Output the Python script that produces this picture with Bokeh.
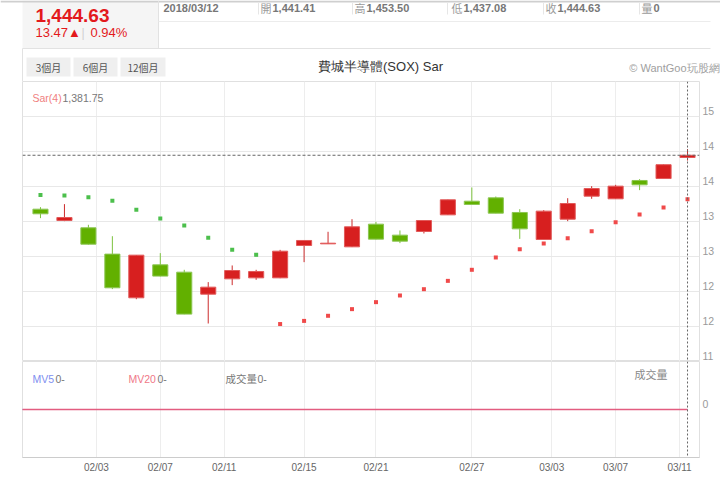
import numpy as np
from bokeh.plotting import figure
from bokeh.models import Range1d, FixedTicker, LinearAxis, Span, Grid
from bokeh.layouts import column
from bokeh.embed import file_html
from bokeh.resources import INLINE
from bokeh.core.properties import value

# ---------------- data ----------------
dates = ["2018-01-31", "2018-02-01", "2018-02-02", "2018-02-05", "2018-02-06", "2018-02-07",
         "2018-02-08", "2018-02-09", "2018-02-12", "2018-02-13", "2018-02-14", "2018-02-15",
         "2018-02-16", "2018-02-20", "2018-02-21", "2018-02-22", "2018-02-23", "2018-02-26",
         "2018-02-27", "2018-02-28", "2018-03-01", "2018-03-02", "2018-03-05", "2018-03-06",
         "2018-03-07", "2018-03-08", "2018-03-09", "2018-03-12"]
opens = [1367.6, 1351.4, 1341.0, 1303.4, 1241.0, 1288.1, 1277.6, 1246.2, 1268.1, 1269.5,
         1269.5, 1315.7, 1318.1, 1313.8, 1346.2, 1330.5, 1335.7, 1359.5, 1379.0, 1383.8,
         1362.9, 1324.3, 1353.3, 1386.2, 1382.4, 1408.6, 1411.4, 1441.41]
highs = [1370.5, 1374.8, 1345.3, 1329.0, 1302.0, 1304.8, 1281.0, 1263.4, 1287.2, 1281.0,
         1309.5, 1323.2, 1335.3, 1353.3, 1349.5, 1337.2, 1351.6, 1381.2, 1398.6, 1385.7,
         1367.6, 1366.2, 1383.3, 1400.5, 1402.4, 1410.5, 1431.5, 1453.50]
lows = [1354.8, 1350.5, 1317.0, 1253.4, 1239.0, 1271.5, 1217.5, 1204.3, 1259.1, 1266.7,
        1269.0, 1291.9, 1317.8, 1313.5, 1324.5, 1319.1, 1332.9, 1359.3, 1374.1, 1361.7,
        1325.2, 1324.0, 1350.5, 1382.4, 1382.2, 1394.8, 1411.2, 1437.08]
closes = [1361.0, 1355.7, 1317.6, 1255.3, 1301.9, 1272.0, 1217.7, 1256.2, 1280.0, 1278.6,
          1307.6, 1322.9, 1319.0, 1342.4, 1324.8, 1321.9, 1351.4, 1381.0, 1374.3, 1361.9,
          1339.5, 1364.8, 1375.7, 1397.1, 1400.5, 1402.4, 1431.16, 1444.63]
sar = [1388.0, 1387.1, 1384.8, 1379.5, 1366.7, 1354.3, 1344.3, 1326.7, 1309.5, 1302.4,
       1203.5, 1208.0, 1215.3, 1224.8, 1234.8, 1244.3, 1253.3, 1265.2, 1281.0, 1298.6,
       1310.5, 1318.6, 1326.2, 1336.2, 1349.0, 1360.0, 1370.0, 1381.75]
volumes = [0, 0, 0, 0, 0, 0, 0, 0, 0, 0, 0, 0, 0, 0, 0, 0, 0, 0, 0, 0, 0, 0, 0, 0, 0, 0, 0, 0]
mv_dates = ["2018-01-30"] + dates
mv5 = [0, 0, 0, 0, 0, 0, 0, 0, 0, 0, 0, 0, 0, 0, 0, 0, 0, 0, 0, 0, 0, 0, 0, 0, 0, 0, 0, 0, 0]
mv20 = [0, 0, 0, 0, 0, 0, 0, 0, 0, 0, 0, 0, 0, 0, 0, 0, 0, 0, 0, 0, 0, 0, 0, 0, 0, 0, 0, 0, 0]
x_tick_labels = ["02/03", "02/07", "02/11", "02/15", "02/21", "02/27", "03/03", "03/07", "03/11"]
price_ticks = [1150, 1200, 1250, 1300, 1350, 1400, 1450, 1500]
price_tick_labels = ["11", "12", "12", "13", "13", "14", "14", "15"]

title_text = "費城半導體(SOX) Sar"
last_date = "2018/03/12"
info_names = ["開", "高", "低", "收", "量"]
info_values = ["1,441.41", "1,453.50", "1,437.08", "1,444.63", "0"]
last_price = "1,444.63"
change = "13.47▲"
change_pct = "0.94%"
ranges_buttons = ["3個月", "6個月", "12個月"]
sar_name = "Sar(4)"
sar_last = "1,381.75"
credit = "© WantGoo玩股網"

# ---------------- derived positions (ordinal axis) ----------------
n = len(dates)
idx = np.arange(n)
day_num = np.array(dates, dtype="datetime64[D]").astype(np.int64)
tick_days = np.array(["2018-" + t.replace("/", "-") for t in x_tick_labels],
                     dtype="datetime64[D]").astype(np.int64)
tick_pos = [round(float(v), 4) for v in np.interp(tick_days, day_num, idx)]
mv_x = np.arange(-1, n)

up = [c >= o for o, c in zip(opens, closes)]
RED, GREEN = "#d71f1f", "#62b000"
body_fill = [RED if u else GREEN for u in up]
body_line = ["#e25a5a" if u else "#8cc653" for u in up]
wick_col = ["#cc2b2b" if u else "#7cc23e" for u in up]
body_top = [max(o, c) for o, c in zip(opens, closes)]
body_bot = [min(o, c) for o, c in zip(opens, closes)]
sar_col = ["#4cbf4c" if s > h else "#f04a4a" for s, h in zip(sar, highs)]

FONT_NAME = "Liberation Sans"
FONT = value(FONT_NAME)
CJK = value("Noto Sans CJK TC")

P_LO, P_HI = 1150, 1550
V_LO, V_HI = -1, 1
LABEL_LIFT_PX = 6  # y labels sit just above their grid lines


# pixel helpers (screen pixel -> data)
def px(x):
    return -0.75 + (x - 22) / 23.965


def py_price(y):
    return P_HI - (y - 81) / 0.7


def py_vol(y):
    return V_HI - (y - 361) / 96 * (V_HI - V_LO)


# ---------------- header ----------------
hf = figure(width=720, height=81, x_range=Range1d(0, 720), y_range=Range1d(81, 0),
            output_backend="svg", toolbar_location=None, x_axis_location=None,
            y_axis_location=None, min_border=0, frame_align=False)
hf.grid.visible = False
hf.outline_line_color = None
hf.quad(left=[22], right=[158], top=[0], bottom=[48], fill_color="#f5f5f5", line_color=None)
hf.segment(x0=[0, 158, 158, 22, 22], y0=[1, 0, 21, 48, 48], x1=[720, 158, 710, 710, 22],
           y1=[1, 48, 21, 48, 81], line_color=["#cfcfcf", "#e2e2e2", "#ececec", "#e2e2e2", "#e2e2e2"],
           line_width=[2, 1, 1, 1, 1])
hf.segment(x0=[258, 352, 447, 543, 639], y0=[2] * 5, x1=[258, 352, 447, 543, 639], y1=[14] * 5,
           line_color="#e6e6e6", line_width=1)
hf.text(x=[35], y=[14.5], text=[last_price], text_font=FONT, text_font_size="19px",
        text_font_style="bold", text_color="#e3191c", text_baseline="middle")
hf.text(x=[35, 90], y=[32, 32], text=[change, change_pct], text_font=FONT, text_font_size="13px",
        text_color="#e3191c", text_baseline="middle")
hf.text(x=[81], y=[32], text=["|"], text_font=FONT, text_font_size="12px",
        text_color="#d0d0d0", text_baseline="middle")
hf.text(x=[163], y=[7], text=[last_date], text_font=FONT, text_font_size="11px",
        text_font_style="bold", text_color="#777777", text_baseline="middle")
name_x = [260, 354, 451, 545, 641]
hf.text(x=name_x, y=[7] * 5, text=info_names, text_font=CJK, text_font_size="11px",
        text_color="#9a9a9a", text_baseline="middle")
hf.text(x=[v + 12 for v in name_x], y=[7] * 5, text=info_values, text_font=FONT,
        text_font_size="11px", text_font_style="bold", text_color="#777777",
        text_baseline="middle")
hf.quad(left=[26, 73, 120], right=[70, 117, 165], top=[57, 57, 57], bottom=[76, 76, 76],
        fill_color="#efefef", line_color=None)
hf.text(x=[48, 95, 142.5], y=[66.5] * 3, text=ranges_buttons, text_font=CJK,
        text_font_size="10px", text_color="#555555", text_baseline="middle", text_align="center")
hf.text(x=[380], y=[66], text=[title_text], text_font=FONT, text_font_size="13px",
        text_color="#333333", text_baseline="middle", text_align="center")
hf.text(x=[719], y=[67], text=[credit], text_font=FONT, text_font_size="11px",
        text_color="#a0a0a0", text_baseline="middle", text_align="right")

# ---------------- chart panels ----------------
xr = Range1d(-0.75, 27.5)


def panel(h, yr, bottom):
    f = figure(width=720, height=h, x_range=xr, y_range=yr, output_backend="svg",
               toolbar_location=None, x_axis_location=None, y_axis_location=None,
               min_border_left=22, min_border_right=21, min_border_top=0,
               min_border_bottom=bottom)
    f.grid.visible = False
    f.outline_line_color = "#e0e0e0"
    f.add_layout(Grid(dimension=0, ticker=FixedTicker(ticks=tick_pos), grid_line_color="#ededed"))
    return f


def right_axis(ticks, overrides, range_name):
    return LinearAxis(ticker=FixedTicker(ticks=ticks), major_label_overrides=overrides,
                      y_range_name=range_name, axis_line_color=None,
                      major_tick_line_color=None, minor_tick_line_color=None,
                      major_tick_out=0, major_tick_in=0,
                      major_label_text_color="#9a9a9a", major_label_text_font_size="10.5px",
                      major_label_text_font=FONT_NAME, major_label_standoff=3)


# price panel: 280 px tall, 1150..1550
pf = panel(280, Range1d(P_LO, P_HI), 0)
p_lift = LABEL_LIFT_PX * (P_HI - P_LO) / 280
pf.extra_y_ranges = {"labels": Range1d(P_LO - p_lift, P_HI - p_lift)}
pf.add_layout(Grid(dimension=1, ticker=FixedTicker(ticks=price_ticks), grid_line_color="#e8e8e8"))
pf.add_layout(right_axis(price_ticks, {t: l for t, l in zip(price_ticks, price_tick_labels)},
                         "labels"), "right")

pf.segment(x0=idx, y0=lows, x1=idx, y1=highs, line_color=wick_col, line_width=1)
pf.vbar(x=idx, bottom=body_bot, top=body_top, width=0.63, fill_color=body_fill,
        line_color=body_line, line_width=1)
pf.scatter(x=idx, y=sar, marker="square", size=4, fill_color=sar_col, line_color=None)

pf.add_layout(Span(location=closes[-1], dimension="width", line_color="#666666",
                   line_dash="3 2", line_width=1))
pf.add_layout(Span(location=idx[-1], dimension="height", line_color="#666666",
                   line_dash="2 2", line_width=1))
pf.text(x=[px(32)], y=[py_price(97)], text=[sar_name], text_font=FONT, text_font_size="10.5px",
        text_color="#f08080", text_baseline="middle")
pf.text(x=[px(62)], y=[py_price(97)], text=[sar_last], text_font=FONT, text_font_size="10.5px",
        text_color="#777777", text_baseline="middle")

# volume panel: 96 px frame
vf = panel(122, Range1d(V_LO, V_HI), 26)
v_lift = LABEL_LIFT_PX * (V_HI - V_LO) / 96
vf.extra_y_ranges = {"labels": Range1d(V_LO - v_lift, V_HI - v_lift)}
vf.vbar(x=idx, top=volumes, width=0.63, fill_color="#bbbbbb", line_color=None)
vf.line(mv_x, mv5, line_color="#7f8ff0", line_width=1)
vf.line(mv_x, mv20, line_color="#e35d80", line_width=1.3)
vf.add_layout(right_axis([0], {}, "labels"), "right")
xax = LinearAxis(ticker=FixedTicker(ticks=tick_pos),
                 major_label_overrides={t: l for t, l in zip(tick_pos, x_tick_labels)},
                 axis_line_color="#cccccc", major_tick_line_color=None,
                 minor_tick_line_color=None, major_tick_out=0, major_tick_in=0,
                 major_label_text_color="#666666",
                 major_label_text_font_size="10px", major_label_text_font=FONT_NAME,
                 major_label_standoff=4)
vf.add_layout(xax, "below")
vf.add_layout(Span(location=idx[-1], dimension="height", line_color="#666666",
                   line_dash="2 2", line_width=1))

ly = py_vol(378)
vf.text(x=[px(32)], y=[ly], text=["MV5"], text_font=FONT, text_font_size="10.5px",
        text_color="#7f8ff0", text_baseline="middle")
vf.text(x=[px(55)], y=[ly], text=["0-"], text_font=FONT, text_font_size="10.5px",
        text_color="#777777", text_baseline="middle")
vf.text(x=[px(128)], y=[ly], text=["MV20"], text_font=FONT, text_font_size="10.5px",
        text_color="#f07888", text_baseline="middle")
vf.text(x=[px(157)], y=[ly], text=["0-"], text_font=FONT, text_font_size="10.5px",
        text_color="#777777", text_baseline="middle")
vf.text(x=[px(225)], y=[ly], text=["成交量"], text_font=CJK, text_font_size="10.5px",
        text_color="#777777", text_baseline="middle")
vf.text(x=[px(257)], y=[ly], text=["0-"], text_font=FONT, text_font_size="10.5px",
        text_color="#777777", text_baseline="middle")
vf.text(x=[px(634)], y=[py_vol(373)], text=["成交量"], text_font=CJK, text_font_size="11px",
        text_color="#888888", text_baseline="middle")

layout = column(hf, pf, vf, spacing=0)
open("out.html", "w").write(file_html(layout, INLINE))
